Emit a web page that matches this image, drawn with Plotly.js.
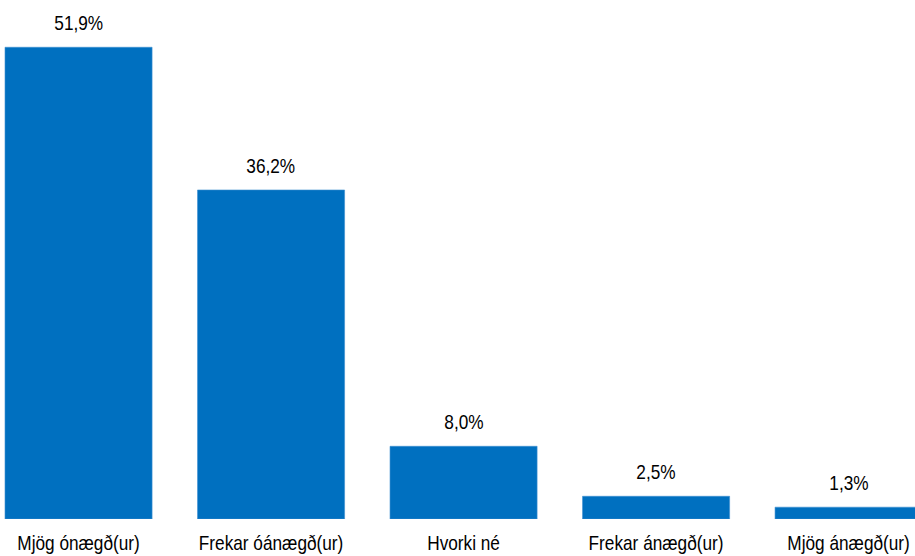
<!DOCTYPE html>
<html>
<head>
<meta charset="utf-8">
<script src="https://cdn.plot.ly/plotly-3.0.1.min.js"></script>
<style>html,body{margin:0;padding:0;background:#fff;}#chart{width:915px;height:556px;}</style>
</head>
<body>
<div id="chart"></div>
<script>
const categories = ["Mjög ónægð(ur)", "Frekar óánægð(ur)", "Hvorki né", "Frekar ánægð(ur)", "Mjög ánægð(ur)"];
const values = [51.9, 36.2, 8.0, 2.5, 1.3];
const valueLabels = ["51,9%", "36,2%", "8,0%", "2,5%", "1,3%"];

const FONT = '"Liberation Sans", Arial, sans-serif';
const SQUEEZE = 0.82;

const trace = {
  type: 'bar',
  x: categories,
  y: values,
  marker: {color: '#0070C0', line: {color: '#3d8fd0', width: 0.6}},
  hoverinfo: 'skip'
};

const annotations = categories.map((c, i) => ({
  x: c, y: values[i], text: valueLabels[i],
  showarrow: false, xanchor: 'center', yanchor: 'bottom', yshift: 11,
  font: {family: FONT, size: 21, color: '#000'}
}));

const layout = {
  width: 915, height: 556,
  margin: {l: 0, r: 0, t: 0, b: 37},
  paper_bgcolor: '#fff', plot_bgcolor: '#fff',
  showlegend: false,
  bargap: 0.236,
  font: {family: FONT, size: 21, color: '#000'},
  xaxis: {
    type: 'category',
    range: [-0.408, 4.345],
    showgrid: false, zeroline: false, showline: false,
    ticks: '', ticklabelstandoff: 9,
    tickfont: {family: FONT, size: 21, color: '#000'},
    fixedrange: true
  },
  yaxis: {
    range: [0, 57.1],
    showgrid: false, zeroline: false, showline: false,
    showticklabels: false, ticks: '',
    fixedrange: true
  },
  annotations: annotations
};

Plotly.newPlot('chart', [trace], layout, {displayModeBar: false, staticPlot: true}).then(() => {
  document.querySelectorAll('#chart .xtick text, #chart .annotation-text').forEach(t => {
    const w = t.getComputedTextLength();
    t.setAttribute('textLength', (w * SQUEEZE).toFixed(2));
    t.setAttribute('lengthAdjust', 'spacingAndGlyphs');
  });
});
</script>
</body>
</html>
